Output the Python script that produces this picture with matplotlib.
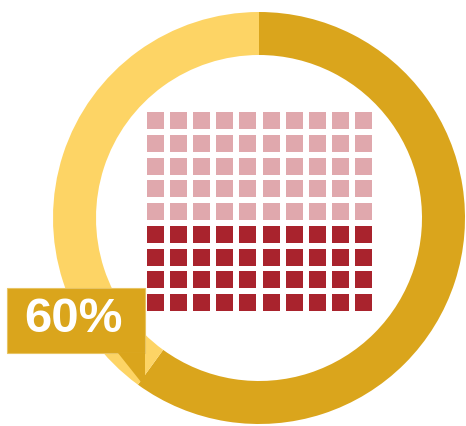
import matplotlib.pyplot as plt
from matplotlib.patches import Wedge, Rectangle, Polygon

# data
share_values = [60, 40]          # highlighted share, remainder
share_label = "60%"
waffle_cols = 10
waffle_rows_light = 5
waffle_rows_dark = 4

dark_gold = "#DAA51C"
light_gold = "#FDD465"
pink = "#E0A8AD"
dark_red = "#A9232D"

W, H = 466, 427
fig = plt.figure(figsize=(W / 100, H / 100), dpi=100)
ax = fig.add_axes([0, 0, 1, 1])
ax.set_xlim(0, W)
ax.set_ylim(0, H)
ax.set_aspect("equal")
ax.axis("off")

# donut ring, starting at 12 o'clock and going clockwise
cx, cy = 259, H - 219
r_out, ring_w = 206, 43
total = sum(share_values)
start = 90
colors = [dark_gold, light_gold]
for val, col in zip(share_values, colors):
    sweep = 360 * val / total
    ax.add_patch(Wedge((cx, cy), r_out, start - sweep, start, width=ring_w,
                       facecolor=col, edgecolor="none"))
    start -= sweep

# waffle grid
x0, y0 = 147, 113
pitch_x, pitch_y, sq = 23.1, 22.75, 17
n_rows = waffle_rows_light + waffle_rows_dark
for r in range(n_rows):
    col = pink if r < waffle_rows_light else dark_red
    for c in range(waffle_cols):
        px = x0 + c * pitch_x
        py = y0 + r * pitch_y
        ax.add_patch(Rectangle((px, H - py - sq), sq, sq,
                               facecolor=col, edgecolor="none"))

# callout box with pointer
bx0, bx1, by0, by1 = 7, 145, 289, 354
ax.add_patch(Rectangle((bx0, H - by1), bx1 - bx0, by1 - by0,
                       facecolor=dark_gold, edgecolor="#E8C463", lw=0.8))
ax.add_patch(Polygon([(118, H - by1 + 0.5), (bx1, H - by1 + 0.5), (bx1, H - 388)],
                     closed=True, facecolor=dark_gold, edgecolor="none"))
ax.text(73.5, H - 320, share_label,
        ha="center", va="center", color="white", fontsize=35.5,
        fontweight="bold", family="Liberation Sans")

fig.savefig("out.png", dpi=100)
